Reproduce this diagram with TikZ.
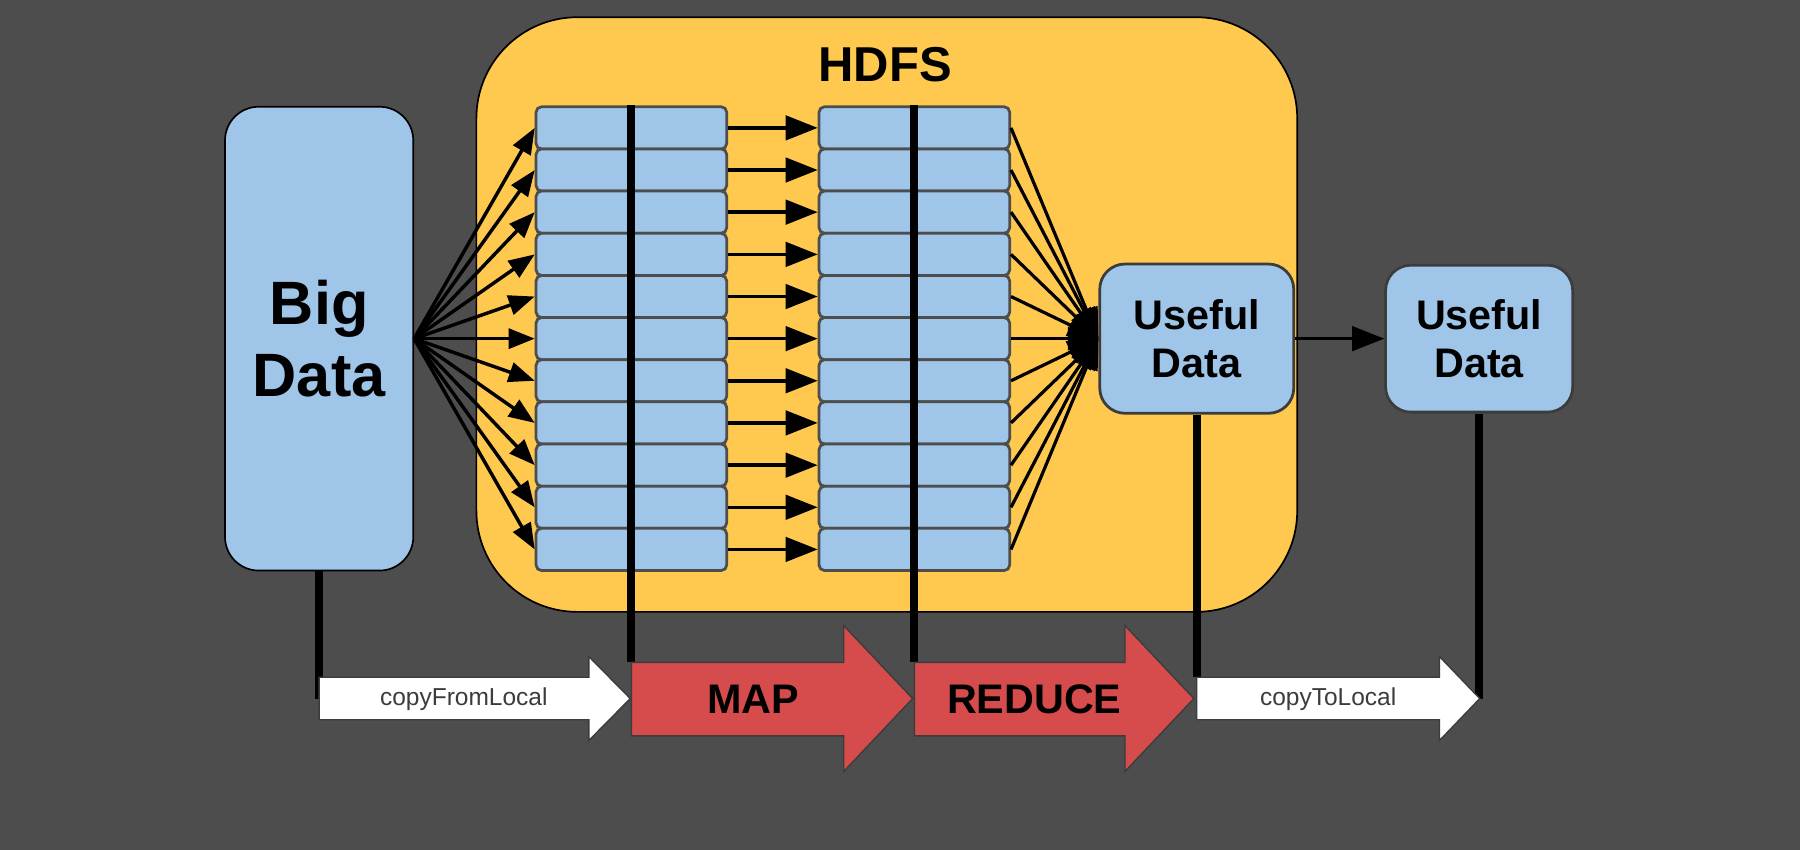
\documentclass[tikz,border=0pt]{standalone}
\usepackage{fontspec}
\setmainfont{Liberation Sans}
\usetikzlibrary{arrows.meta}

\definecolor{bggray}{RGB}{77,77,77}
\definecolor{hdfsyellow}{RGB}{255,201,79}
\definecolor{cellblue}{RGB}{159,197,232}
\definecolor{stepred}{RGB}{214,76,76}
\definecolor{edgegray}{RGB}{60,60,60}

\tikzset{every picture/.style={line width=0.75pt}}
\tikzset{
  cell/.style={draw=bggray, line width=1.8pt, fill=cellblue, rounded corners=3.5pt,
    minimum width=124.5pt, minimum height=27.55pt, inner sep=0pt},
  databox/.style={draw=edgegray, line width=1.8pt, fill=cellblue, rounded corners=16.5pt,
    align=center, inner sep=0pt, font=\fontsize{27}{31}\selectfont\bfseries},
  fanarrow/.style={line width=2.25pt, -{Triangle[length=17pt,width=13pt]}},
  mergearrow/.style={line width=2.1pt, -{Triangle[length=20pt,width=15pt]}},
  passarrow/.style={line width=2.25pt, -{Triangle[length=21pt,width=16pt]}},
  joinline/.style={line width=5.25pt, black},
  redarrow/.style={draw=edgegray, line width=0.9pt, fill=stepred},
  copyarrow/.style={draw=edgegray, line width=0.9pt, fill=white},
  steplabel/.style={font=\fontsize{27}{31}\selectfont\bfseries},
  copylabel/.style={text=edgegray, font=\fontsize{16}{19}\selectfont}
}

\begin{document}
\begin{tikzpicture}[x=0.75pt,y=0.75pt,yscale=-1,xscale=1]
	\useasboundingbox (0,0) rectangle (1568,740);
	%Shape: Background
	\fill [bggray] (0,0) rectangle (1568,740);

	%Shape: Rounded Rect HDFS
	\draw [color=black, fill=hdfsyellow, line width=1.1pt, rounded corners=66pt] (415,15) rectangle (1130,533);
	% Text Node
	\node [font=\fontsize{32}{36}\selectfont\bfseries] (hdfs) at (771,56) {HDFS};

	%Shape: Rounded Rect Big Data
	\node [draw=black, line width=1.1pt, fill=cellblue, rounded corners=22pt, minimum width=123pt,
		minimum height=303pt, align=center, font=\fontsize{40}{46.5}\selectfont\bfseries] (big) at (278,295) {Big\\Data};

	%Shapes: map blocks
	\node [cell] (L1) at (550,111.4) {};
	\node [cell] (L2) at (550,148.1) {};
	\node [cell] (L3) at (550,184.8) {};
	\node [cell] (L4) at (550,221.6) {};
	\node [cell] (L5) at (550,258.3) {};
	\node [cell] (L6) at (550,295.0) {};
	\node [cell] (L7) at (550,331.7) {};
	\node [cell] (L8) at (550,368.4) {};
	\node [cell] (L9) at (550,405.2) {};
	\node [cell] (L10) at (550,441.9) {};
	\node [cell] (L11) at (550,478.6) {};
	%Shapes: reduce blocks
	\node [cell] (R1) at (796.5,111.4) {};
	\node [cell] (R2) at (796.5,148.1) {};
	\node [cell] (R3) at (796.5,184.8) {};
	\node [cell] (R4) at (796.5,221.6) {};
	\node [cell] (R5) at (796.5,258.3) {};
	\node [cell] (R6) at (796.5,295.0) {};
	\node [cell] (R7) at (796.5,331.7) {};
	\node [cell] (R8) at (796.5,368.4) {};
	\node [cell] (R9) at (796.5,405.2) {};
	\node [cell] (R10) at (796.5,441.9) {};
	\node [cell] (R11) at (796.5,478.6) {};

	%Shapes: Useful Data
	\node [databox, minimum width=126.75pt, minimum height=97.5pt] (use) at (1042.5,295) {Useful\\Data};
	\node [databox, minimum width=122.25pt, minimum height=96pt] (out) at (1288.5,295) {Useful\\Data};

	%Straight Lines: split
	\draw [fanarrow] (big.east) -- (L1.west);
	\draw [fanarrow] (big.east) -- (L2.west);
	\draw [fanarrow] (big.east) -- (L3.west);
	\draw [fanarrow] (big.east) -- (L4.west);
	\draw [fanarrow] (big.east) -- (L5.west);
	\draw [fanarrow] (big.east) -- (L6.west);
	\draw [fanarrow] (big.east) -- (L7.west);
	\draw [fanarrow] (big.east) -- (L8.west);
	\draw [fanarrow] (big.east) -- (L9.west);
	\draw [fanarrow] (big.east) -- (L10.west);
	\draw [fanarrow] (big.east) -- (L11.west);
	%Straight Lines: map to reduce
	\draw [passarrow] (L1.east) -- (R1.west);
	\draw [passarrow] (L2.east) -- (R2.west);
	\draw [passarrow] (L3.east) -- (R3.west);
	\draw [passarrow] (L4.east) -- (R4.west);
	\draw [passarrow] (L5.east) -- (R5.west);
	\draw [passarrow] (L6.east) -- (R6.west);
	\draw [passarrow] (L7.east) -- (R7.west);
	\draw [passarrow] (L8.east) -- (R8.west);
	\draw [passarrow] (L9.east) -- (R9.west);
	\draw [passarrow] (L10.east) -- (R10.west);
	\draw [passarrow] (L11.east) -- (R11.west);
	%Straight Lines: merge
	\draw [mergearrow] (R1.east) -- (use.west);
	\draw [mergearrow] (R2.east) -- (use.west);
	\draw [mergearrow] (R3.east) -- (use.west);
	\draw [mergearrow] (R4.east) -- (use.west);
	\draw [mergearrow] (R5.east) -- (use.west);
	\draw [mergearrow] (R6.east) -- (use.west);
	\draw [mergearrow] (R7.east) -- (use.west);
	\draw [mergearrow] (R8.east) -- (use.west);
	\draw [mergearrow] (R9.east) -- (use.west);
	\draw [mergearrow] (R10.east) -- (use.west);
	\draw [mergearrow] (R11.east) -- (use.west);
	%Straight Lines: out of HDFS
	\draw [passarrow] (use.east) -- (out.west);

	% ends of the step arrows
	\coordinate (cfl) at (278,608.5);
	\coordinate (mapT) at (550,577);
	\coordinate (redT) at (796.5,577);
	\coordinate (ctl) at (1042.5,590);
	\coordinate (ctlTip) at (1288.5,608.5);

	%Straight Lines: stage markers
	\draw [joinline] (big.south) -- (cfl);
	\draw [joinline] (L1.north) -- (mapT);
	\draw [joinline] (R1.north) -- (redT);
	\draw [joinline] (use.south) -- (ctl);
	\draw [joinline] (out.south) -- (ctlTip);

	%Shape: Right Arrow copyFromLocal
	\draw [copyarrow] (278,590) -- (513,590) -- (513,572) -- (549,608.5) -- (513,645) -- (513,627) -- (278,627) -- cycle;
	%Shape: Right Arrow MAP
	\draw [redarrow] (550,577) -- (735,577) -- (735,545) -- (795,608.5) -- (735,672) -- (735,641) -- (550,641) -- cycle;
	%Shape: Right Arrow REDUCE
	\draw [redarrow] (796.5,577) -- (980,577) -- (980,545) -- (1040,608.5) -- (980,672) -- (980,641) -- (796.5,641) -- cycle;
	%Shape: Right Arrow copyToLocal
	\draw [copyarrow] (1042.5,590) -- (1254,590) -- (1254,572) -- (1289,608.5) -- (1254,645) -- (1254,627) -- (1042.5,627) -- cycle;

	% Text Node
	\node [copylabel] (cflText) at (404,609) {copyFromLocal};
	% Text Node
	\node [steplabel] (mapText) at (656,609) {MAP};
	% Text Node
	\node [steplabel] (redText) at (901,609) {REDUCE};
	% Text Node
	\node [copylabel] (ctlText) at (1157,609) {copyToLocal};

\end{tikzpicture}
\end{document}
